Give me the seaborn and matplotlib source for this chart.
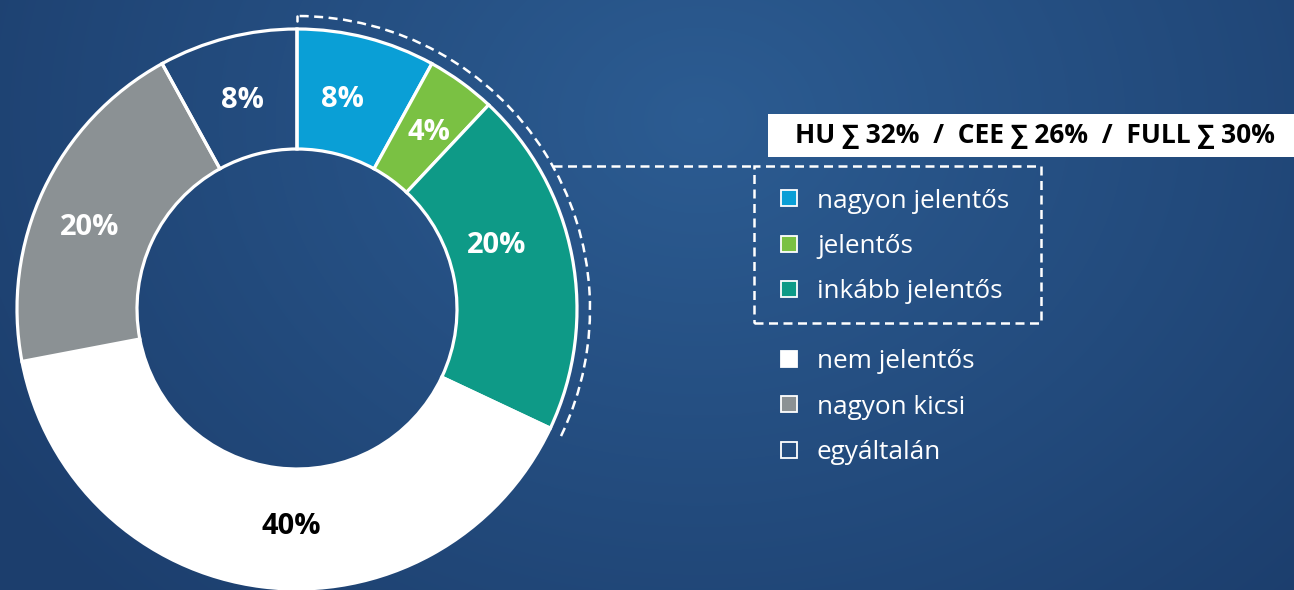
import numpy as np
import matplotlib
matplotlib.use("Agg")
import matplotlib.pyplot as plt
import seaborn as sns
from matplotlib.patches import Rectangle, Arc
from matplotlib.colors import LinearSegmentedColormap

# ---- data ----
categories = ["nagyon jelentős", "jelentős", "inkább jelentős",
              "nem jelentős", "nagyon kicsi", "egyáltalán"]
values = [8, 4, 20, 40, 20, 8]
value_labels = ["8%", "4%", "20%", "40%", "20%", "8%"]
header = "HU ∑ 32%  /  CEE ∑ 26%  /  FULL ∑ 30%"
n_highlight = 3

# ---- style ----
colors = ["#0a9fd6", "#7ac143", "#0e9a87", "#ffffff", "#8b9194", "none"]
label_colors = ["white", "white", "white", "black", "white", "white"]
# label placement tweaks (degrees added to wedge mid-angle, radius in px)
label_nudge = [2.2, -0.7, 6.9, 5.6, 3.9, 0.3]
label_radius = [214, 220, 210, 218, 223, 216]

sns.set_theme(style="white")
plt.rcParams['font.family'] = ['Open Sans', 'DejaVu Sans']

W, H = 1294, 590
fig = plt.figure(figsize=(W / 100, H / 100), dpi=100)

# background gradient
bg = fig.add_axes([0, 0, 1, 1])
yy, xx = np.mgrid[0:H, 0:W]
d = np.sqrt((xx - 700.0) ** 2 + ((yy - 120.0) / 0.8) ** 2)
t = np.clip(d / 850.0, 0, 1)
cmap = LinearSegmentedColormap.from_list('bg', ['#2c5c92', '#1c3e6d'])
bg.imshow(t, cmap=cmap, extent=[0, W, 0, H], origin='upper', aspect='auto')
bg.axis('off')

ax = fig.add_axes([0, 0, 1, 1])
ax.patch.set_alpha(0)

cx, cy = 297, H - 309
R, r_in = 280, 160
wedges, _ = ax.pie(values, colors=colors, radius=R, center=(cx, cy),
                   startangle=90, counterclock=False,
                   wedgeprops=dict(width=R - r_in, edgecolor='white', linewidth=2.3))
ax.set_xlim(0, W)
ax.set_ylim(0, H)
ax.set_aspect('equal')
ax.axis('off')

# value labels
for w, lab, c, dn, rr in zip(wedges, value_labels, label_colors, label_nudge, label_radius):
    a = np.deg2rad((w.theta1 + w.theta2) / 2 + dn)
    ax.text(cx + rr * np.cos(a), cy + rr * np.sin(a), lab, color=c,
            fontsize=21, fontweight='bold', ha='center', va='center')

# dashed arc around highlighted categories
dash = (0, (3.6, 2.2))
Rd = 293
th1 = wedges[n_highlight - 1].theta1
th2 = wedges[0].theta2
ax.add_patch(Arc((cx, cy), 2 * Rd, 2 * Rd, theta1=th1 - 0.5, theta2=th2,
                 edgecolor='white', lw=1.8, linestyle=dash))
ax.plot([cx, cx], [cy + Rd, cy + Rd - 5], color='white', lw=1.8)

# dashed box around highlighted legend
bx0, by_top, bx1, by_bot = 754, 166, 1041, 323
ax.add_patch(Rectangle((bx0, H - by_bot), bx1 - bx0, by_bot - by_top, fill=False,
                       edgecolor='white', lw=1.8, linestyle=dash))
yc = H - by_top
xc = cx + np.sqrt(Rd ** 2 - (yc - cy) ** 2)
ax.plot([xc, bx0], [yc, yc], color='white', lw=1.8, linestyle=dash)

# header box
ax.add_patch(Rectangle((768, H - 157), W - 768, 43, facecolor='white', edgecolor='none'))
ax.text(1035, H - 135.5, header, color='black', fontsize=19,
        fontweight='bold', ha='center', va='center')

# legend
for i, (cat, col) in enumerate(zip(categories, colors)):
    ypx = 198 + 45.5 * i + (24 if i >= n_highlight else 0)
    ax.add_patch(Rectangle((781, H - ypx - 8), 16, 16, facecolor=col,
                           edgecolor='white', lw=1.3))
    ax.text(817, H - ypx, cat, color='white', fontsize=18.8,
            ha='left', va='center_baseline')

fig.savefig("out.png", dpi=100)
